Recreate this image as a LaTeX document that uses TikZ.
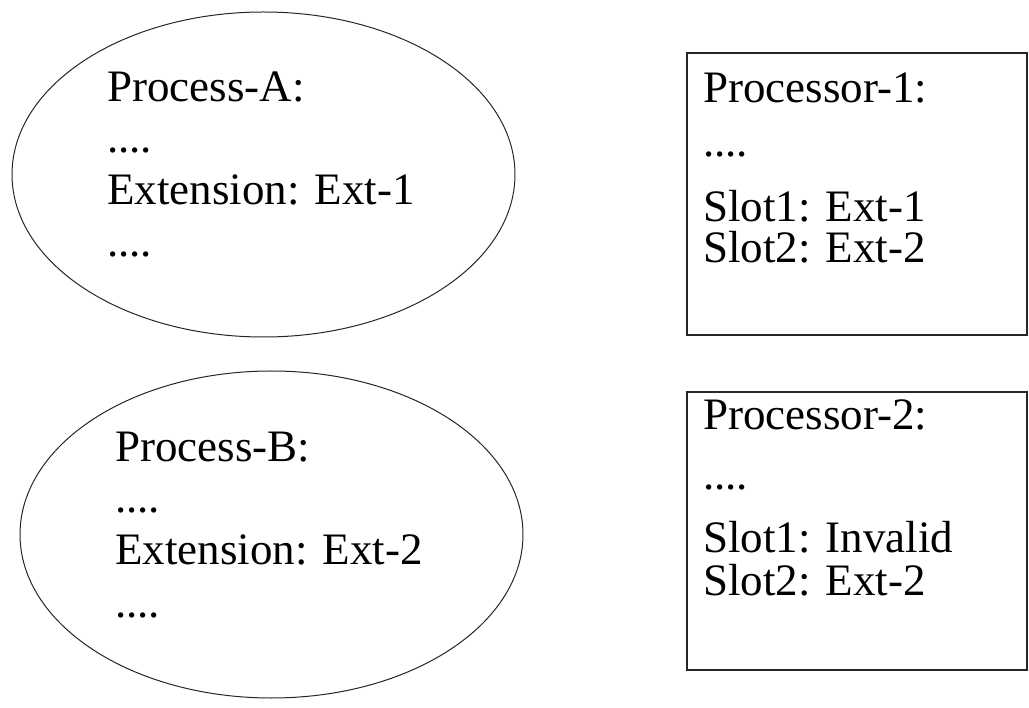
\documentclass[tikz,border=0pt]{standalone}
\usepackage{fontspec}
\setmainfont{Liberation Serif}
\usetikzlibrary{shapes.geometric}
\tikzset{procell/.style={draw=black!85, ellipse, line width=1pt, inner sep=0pt},
         slotbox/.style={draw=black!85, rectangle, line width=1.3pt, inner sep=0pt},
         line/.style={anchor=base west, inner sep=0pt, font=\fontsize{45}{54}\selectfont}}

\begin{document}
\begin{tikzpicture}[x=1pt, y=-1pt]
                \useasboundingbox (0,0) rectangle (1029,708);
                \node[procell, minimum width=503pt, minimum height=325pt] (procA) at (263.5,174.5) {};
                \node[procell, minimum width=503pt, minimum height=327pt] (procB) at (271.5,534.5) {};
                \node[slotbox, minimum width=340pt, minimum height=282pt] (cpuA) at (857,194) {};
                \node[slotbox, minimum width=340pt, minimum height=278pt] (cpuB) at (857,531) {};

                \node[line] (procAname) at (107,102) {Process-A:};
                \node[line] (procAdots) at (107,153) {....};
                \node[line] (procAext)  at (107,205) {Extension: Ext-1};
                \node[line] (procAend)  at (107,257) {....};

                \node[line] (procBname) at (115,462) {Process-B:};
                \node[line] (procBdots) at (115,513) {....};
                \node[line] (procBext)  at (115,565) {Extension: Ext-2};
                \node[line] (procBend)  at (115,617) {....};

                \node[line] (cpuAname)  at (703,103) {Processor-1:};
                \node[line] (cpuAdots)  at (703,157) {....};
                \node[line] (cpuAslot1) at (703,222) {Slot1: Ext-1};
                \node[line] (cpuAslot2) at (703,263) {Slot2: Ext-2};

                \node[line] (cpuBname)  at (703,430) {Processor-2:};
                \node[line] (cpuBdots)  at (703,490) {....};
                \node[line] (cpuBslot1) at (703,553) {Slot1: Invalid};
                \node[line] (cpuBslot2) at (703,595) {Slot2: Ext-2};
              \end{tikzpicture}
\end{document}
